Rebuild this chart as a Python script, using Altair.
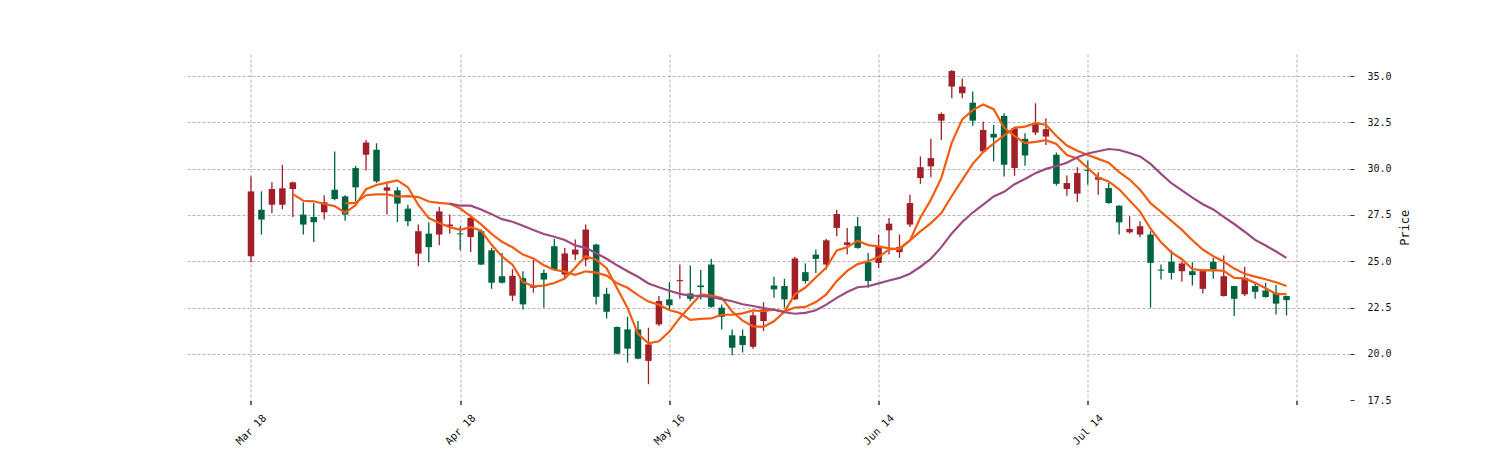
import altair as alt
import pandas as pd

# OHLC values (index = trading-day position)
opens = [25.27, 27.78, 28.05, 28.05, 28.90, 27.52, 27.39, 27.64, 28.86, 28.50,
         30.03, 30.75, 31.02, 28.81, 28.83, 27.84, 25.41, 26.49, 26.44, 26.89,
         26.50, 26.31, 26.62, 25.59, 24.19, 23.14, 24.09, 23.57, 24.37, 25.81,
         24.28, 25.36, 25.09, 25.90, 23.24, 21.45, 21.32, 21.32, 19.62, 21.59,
         22.94, 23.92, 23.26, 23.69, 24.82, 22.49, 21.00, 20.97, 20.38, 21.77,
         23.69, 23.66, 22.94, 24.41, 25.36, 24.82, 26.80, 25.88, 26.89, 24.95,
         24.91, 26.67, 25.49, 26.98, 29.49, 30.12, 32.59, 34.43, 34.07, 33.56,
         30.93, 31.88, 32.85, 30.03, 31.61, 31.95, 31.73, 30.75, 28.90, 28.65,
         29.94, 29.40, 28.95, 28.00, 26.56, 26.44, 26.44, 24.55, 24.97, 24.46,
         24.46, 23.51, 24.97, 23.12, 23.66, 23.21, 23.66, 23.42, 23.30, 23.12]
highs = [29.58, 28.77, 29.27, 30.21, 29.31, 28.18, 28.14, 28.56, 30.93, 28.56,
         30.15, 31.55, 31.37, 29.22, 29.00, 28.05, 26.98, 27.10, 27.93, 27.52,
         26.89, 27.52, 26.71, 25.72, 25.45, 24.57, 24.46, 25.09, 24.55, 26.21,
         25.72, 26.17, 26.98, 25.95, 23.57, 21.47, 22.00, 21.77, 21.41, 23.12,
         23.87, 24.82, 24.77, 24.52, 25.13, 22.67, 21.32, 21.32, 22.26, 22.79,
         24.16, 24.05, 25.24, 24.88, 25.63, 26.20, 27.78, 26.80, 27.39, 25.45,
         26.44, 27.34, 26.44, 28.59, 30.66, 31.61, 33.03, 35.32, 34.87, 34.16,
         32.54, 32.36, 32.99, 32.27, 31.91, 33.53, 32.72, 30.87, 29.63, 30.07,
         30.42, 29.80, 29.22, 28.02, 27.43, 27.16, 26.62, 24.82, 25.59, 25.00,
         24.95, 24.57, 25.18, 25.31, 23.68, 24.70, 23.87, 23.84, 23.71, 23.14]
lows = [24.95, 26.44, 27.60, 27.82, 27.39, 26.44, 26.04, 27.25, 28.29, 27.19,
        28.23, 29.90, 29.22, 27.52, 27.12, 26.89, 24.73, 24.95, 25.86, 26.49,
        25.59, 25.50, 24.79, 23.51, 23.80, 22.85, 22.40, 23.30, 22.49, 24.50,
        24.05, 25.06, 24.73, 22.67, 21.91, 19.98, 19.53, 19.71, 18.36, 21.50,
        22.40, 22.97, 22.85, 22.94, 22.49, 21.32, 19.92, 20.07, 20.28, 21.23,
        23.03, 22.49, 22.90, 23.80, 24.37, 24.55, 26.35, 25.36, 25.67, 23.57,
        24.64, 25.36, 25.18, 26.85, 29.18, 29.54, 31.55, 33.80, 33.80, 32.31,
        30.84, 30.39, 29.58, 29.61, 30.15, 31.82, 31.28, 29.08, 28.54, 28.20,
        29.13, 28.59, 28.11, 26.44, 26.50, 26.31, 22.49, 24.01, 24.01, 23.90,
        23.69, 23.26, 24.05, 23.10, 22.04, 23.12, 22.97, 23.03, 22.13, 22.07]
closes = [28.77, 27.25, 28.90, 28.94, 29.26, 26.98, 27.10, 28.18, 28.36, 27.52,
          28.99, 31.41, 29.31, 28.99, 28.11, 27.16, 26.62, 25.76, 27.69, 26.98,
          26.45, 27.34, 24.82, 23.84, 23.84, 24.21, 22.67, 23.69, 24.01, 24.55,
          25.42, 25.63, 26.71, 23.08, 22.27, 20.01, 20.28, 19.74, 20.51, 22.85,
          22.62, 23.98, 22.97, 23.60, 22.54, 22.00, 20.33, 20.48, 22.08, 22.40,
          23.48, 22.94, 25.15, 23.93, 25.13, 26.13, 27.55, 26.02, 25.72, 23.93,
          25.77, 27.03, 25.77, 28.14, 30.08, 30.57, 32.95, 35.27, 34.43, 32.59,
          32.09, 31.68, 30.21, 32.18, 30.71, 32.45, 32.13, 29.18, 29.22, 29.76,
          29.88, 29.54, 28.14, 27.10, 26.74, 26.89, 24.91, 24.49, 24.37, 24.88,
          24.25, 24.55, 24.55, 24.19, 22.97, 24.10, 23.35, 23.07, 22.71, 22.90]

tick_positions = [0, 20, 40, 60, 80, 100]
tick_labels = ["Mar 18", "Apr 18", "May 16", "Jun 14", "Jul 14", ""]
price_ticks = [17.5, 20.0, 22.5, 25.0, 27.5, 30.0, 32.5, 35.0]
ma_windows = [5, 10, 20]
ma_colors = ["#f25c12", "#f25c12", "#9c4a80"]

UP = "#a01f29"
DOWN = "#00633f"
FONT = "DejaVu Sans Mono"

df = pd.DataFrame({"idx": list(range(len(opens))), "open": opens, "high": highs,
                   "low": lows, "close": closes})
df["dir"] = ["up" if c >= o else "down" for o, c in zip(opens, closes)]

label_expr = "".join(
    f"datum.value == {p} ? '{l}' : " for p, l in zip(tick_positions, tick_labels)
) + "''"

x_scale = alt.Scale(domain=[-6.07, 105.07], nice=False, zero=False, padding=0)
y_scale = alt.Scale(domain=[17.48, 36.19], nice=False, zero=False, padding=0)

x_enc = alt.X(
    "idx:Q",
    scale=x_scale,
    axis=alt.Axis(values=tick_positions, labelExpr=label_expr, title=None,
                  grid=True, gridDash=[3, 2], gridColor="#a0a0a0", gridWidth=0.8,
                  domain=False, tickSize=4, tickColor="#333333", tickWidth=1.5,
                  labelAngle=-45, labelAlign="center", labelBaseline="middle",
                  labelPadding=25, labelFont=FONT, labelFontSize=10.5,
                  labelColor="#111111", labelOverlap=False, labelBound=False),
)
color_scale = alt.Scale(domain=["up", "down"], range=[UP, DOWN])

base = alt.Chart(df)

wicks = base.mark_rule(strokeWidth=1.3).encode(
    x=x_enc,
    y=alt.Y("low:Q", scale=y_scale,
            axis=alt.Axis(orient="right", values=price_ticks, format=".1f",
                          title="Price", titleFont=FONT, titleFontSize=12,
                          titleFontWeight="normal", titleColor="#111111",
                          titleAngle=270, titlePadding=20, grid=True,
                          gridDash=[3, 2], gridColor="#a0a0a0", gridWidth=0.8,
                          gridOpacity={"condition": {"test": "datum.value < 18",
                                                     "value": 0}, "value": 1},
                          domain=False, tickSize=4, tickColor="#333333",
                          labelPadding=13, labelFont=FONT, labelFontSize=10,
                          labelColor="#111111")),
    y2="high:Q",
    color=alt.Color("dir:N", scale=color_scale, legend=None),
)

bodies = base.mark_bar(width=6.5).encode(
    x=x_enc,
    y=alt.Y("open:Q", scale=y_scale),
    y2="close:Q",
    color=alt.Color("dir:N", scale=color_scale, legend=None),
)

ma_layers = []
for w, c in zip(ma_windows, ma_colors):
    ma_layers.append(
        base.transform_window(
            ma="mean(close)", cnt="count()", frame=[-(w - 1), 0],
            sort=[alt.SortField("idx")]
        ).transform_filter(alt.datum.cnt >= w).mark_line(
            color=c, strokeWidth=2.2
        ).encode(x=x_enc, y=alt.Y("ma:Q", scale=y_scale))
    )

chart = alt.layer(wicks, bodies, *ma_layers).properties(
    width=1162.5, height=346.5,
    padding={"left": 187.5, "top": 54, "right": 150, "bottom": 49.5},
    autosize=alt.AutoSizeParams(type="none"),
).configure(background="white").configure_view(stroke=None)

chart.save("out.html", embed_options={"renderer": "svg", "actions": False})
